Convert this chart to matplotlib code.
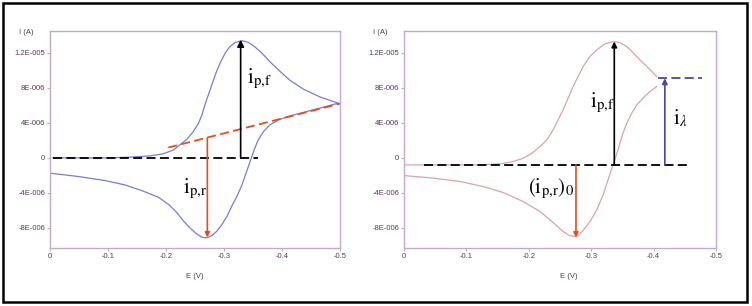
import matplotlib
matplotlib.use('Agg')
import matplotlib.pyplot as plt
from matplotlib.patches import Rectangle

plt.rcParams['mathtext.fontset'] = 'stix'
plt.rcParams['font.family'] = ['Liberation Sans', 'DejaVu Sans']

# left CV (values in V and uA)
left_fwd_E = [-0.005, -0.05, -0.10, -0.138, -0.172, -0.195, -0.213, -0.224, -0.236, -0.247,
              -0.256, -0.262, -0.267, -0.273, -0.279, -0.286, -0.293, -0.302, -0.310, -0.319,
              -0.331, -0.342, -0.353, -0.365, -0.379, -0.397, -0.414, -0.437, -0.466, -0.497]
left_fwd_I = [0.0, 0.0, 0.0, 0.08, 0.23, 0.46, 0.91, 1.49, 2.13, 3.0,
              3.96, 4.91, 6.06, 7.2, 8.34, 9.68, 10.8, 11.97, 12.7, 13.18,
              13.4, 13.2, 12.7, 12.0, 11.0, 9.86, 8.85, 7.85, 6.95, 6.25]
left_rev_E = [-0.497, -0.471, -0.443, -0.414, -0.394, -0.379, -0.368, -0.359, -0.352, -0.345,
              -0.338, -0.331, -0.322, -0.313, -0.305, -0.296, -0.287, -0.279, -0.270, -0.262,
              -0.253, -0.241, -0.230, -0.218, -0.205, -0.187, -0.158, -0.129, -0.095, -0.049, 0.0]
left_rev_I = [6.25, 5.79, 5.3, 4.8, 4.34, 3.77, 3.0, 2.06, 0.91, -0.42,
              -1.75, -3.09, -4.42, -5.57, -6.7, -7.66, -8.42, -8.9, -9.14, -9.07,
              -8.69, -8.0, -7.2, -6.2, -5.35, -4.5, -3.73, -3.09, -2.59, -2.13, -1.75]

# right CV (switching potential near -0.405 V)
right_fwd_E = [-0.002, -0.06, -0.122, -0.154, -0.175, -0.191, -0.205, -0.218, -0.229, -0.239,
               -0.247, -0.255, -0.263, -0.271, -0.279, -0.287, -0.298, -0.309, -0.322, -0.335,
               -0.346, -0.357, -0.367, -0.378, -0.392, -0.405]
right_fwd_I = [-0.8, -0.8, -0.8, -0.69, -0.42, -0.04, 0.53, 1.29, 2.06, 3.2,
               4.34, 5.49, 6.82, 8.15, 9.29, 10.43, 11.58, 12.34, 13.03, 13.3,
               13.18, 12.72, 12.03, 11.2, 10.25, 9.29]
right_rev_E = [-0.405, -0.394, -0.384, -0.373, -0.365, -0.357, -0.350, -0.343, -0.335, -0.327,
               -0.319, -0.309, -0.298, -0.287, -0.277, -0.266, -0.255, -0.234, -0.218, -0.191,
               -0.159, -0.127, -0.090, -0.047, 0.0]
right_rev_I = [8.15, 7.58, 6.89, 6.06, 5.11, 3.97, 2.63, 0.91, -0.8, -2.51,
               -4.23, -5.94, -7.28, -8.31, -8.99, -8.91, -8.42, -7.09, -6.13, -4.99,
               -3.96, -3.28, -2.7, -2.32, -2.02]

xticks = [0, -0.1, -0.2, -0.3, -0.4, -0.5]
xtick_labels = ['0', '-0.1', '-0.2', '-0.3', '-0.4', '-0.5']
yticks = [-8e-6, -4e-6, 0, 4e-6, 8e-6, 1.2e-5]
ytick_labels = ['-8E-006', '-4E-006', '0', '4E-006', '8E-006', '1.2E-005']

uA = 1e-6
frame_color = '#c4a8c8'
label_color = '#553858'
orange = '#e0501e'
W, H = 752, 306

fig = plt.figure(figsize=(W / 100, H / 100), dpi=100)
ax1 = fig.add_axes([50 / W, 58 / H, 290 / W, 217 / H])
ax2 = fig.add_axes([404 / W, 58 / H, 312 / W, 217 / H])


def style_axes(ax):
    ax.set_xlim(0, -0.5)
    ax.set_ylim(-10.3e-6, 14.5e-6)
    ax.set_xticks(xticks)
    ax.set_xticklabels(xtick_labels)
    ax.set_yticks(yticks)
    ax.set_yticklabels(ytick_labels)
    for s in ax.spines.values():
        s.set_color(frame_color)
        s.set_linewidth(1.0)
    ax.tick_params(color=frame_color, length=2, width=0.8, labelsize=5.5,
                   labelcolor=label_color, pad=1.5)


def arrow(ax, x, y0, y1, color, lw=1.2, ms=8):
    ax.annotate('', xy=(x, y1), xytext=(x, y0),
                arrowprops=dict(arrowstyle='-|>', color=color, lw=lw,
                                mutation_scale=ms, shrinkA=0, shrinkB=0))


style_axes(ax1)
style_axes(ax2)

# left panel
ax1.plot(left_fwd_E, [v * uA for v in left_fwd_I], color='#7b7bd2', lw=0.9)
ax1.plot(left_rev_E, [v * uA for v in left_rev_I], color='#7b7bd2', lw=0.9)
ax1.plot([-0.005, -0.359], [0, 0], color='k', lw=1.3, linestyle=(0, (5, 2.4)))
ax1.plot([-0.204, -0.5], [1.18e-6, 6.2e-6], color=orange, lw=1.3, linestyle=(0, (5, 2.4)))
arrow(ax1, -0.3287, 0, 13.5e-6, 'k', ms=10)
arrow(ax1, -0.2713, 2.25e-6, -9.1e-6, orange, ms=7)
ax1.text(-0.339, 8.5e-6, r'$\mathrm{i}_{\mathrm{p{,}f}}$', fontsize=15, ha='left', va='baseline')
ax1.text(-0.229, -4.0e-6, r'$\mathrm{i}_{\mathrm{p{,}r}}$', fontsize=15, ha='left', va='baseline')

# right panel
ax2.plot(right_fwd_E, [v * uA for v in right_fwd_I], color='#d9a2aa', lw=0.9)
ax2.plot(right_rev_E, [v * uA for v in right_rev_I], color='#d9a2aa', lw=0.9)
ax2.plot([-0.032, -0.46], [-0.8e-6, -0.8e-6], color='k', lw=1.3, linestyle=(0, (5, 2.4)))
ax2.plot([-0.4076, -0.477], [9.1e-6, 9.1e-6], color='#4848a8', lw=1.3, linestyle=(0, (5, 2.4)))
arrow(ax2, -0.337, -0.8e-6, 13.3e-6, 'k', ms=8)
arrow(ax2, -0.418, -0.8e-6, 9.1e-6, '#4848a8', ms=8)
arrow(ax2, -0.2756, -0.8e-6, -9.1e-6, orange, ms=7)
ax2.text(-0.298, 5.8e-6, r'$\mathrm{i}_{\mathrm{p{,}f}}$', fontsize=15, ha='left', va='baseline')
ax2.text(-0.431, 3.8e-6, r'$\mathrm{i}_{\lambda}$', fontsize=15, ha='left', va='baseline')
ax2.text(-0.199, -4.1e-6, r'$(\mathrm{i}_{\mathrm{p{,}r}})_{0}$', fontsize=15, ha='left', va='baseline')

# axis labels
for xl, xe in [(26.5, 195), (380.5, 568.5)]:
    fig.text(xl / W, 1 - 32 / H, 'I (A)', fontsize=5.5, color=label_color, ha='center', va='center')
    fig.text(xe / W, 1 - 276 / H, 'E (V)', fontsize=5.5, color=label_color, ha='center', va='center')

# outer frame
fig.patches.append(Rectangle((3 / W, 4.5 / H), 744 / W, 298.5 / H, transform=fig.transFigure,
                             fill=False, edgecolor='k', lw=1.8))

fig.savefig('out.png', dpi=100)
